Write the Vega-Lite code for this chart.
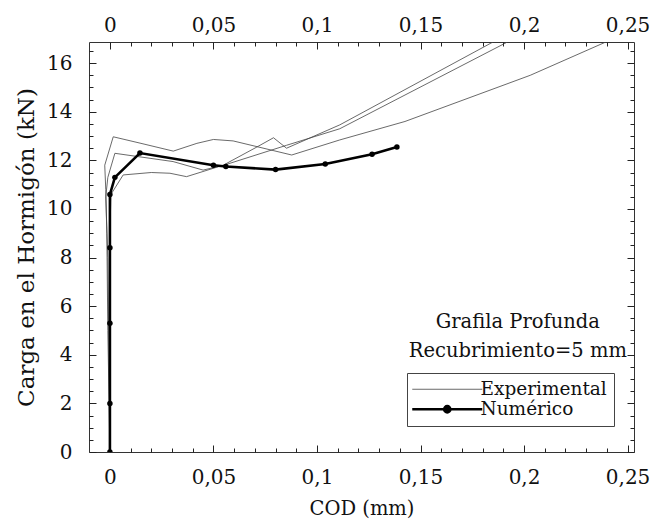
{
  "$schema": "https://vega.github.io/schema/vega-lite/v6.json",
  "width": 545,
  "height": 410,
  "autosize": {"type": "none"},
  "padding": {"left": 89, "top": 42, "right": 24, "bottom": 72},
  "background": "white",
  "config": {
    "view": {"stroke": "#333", "strokeWidth": 1},
    "font": "DejaVu Serif",
    "axis": {"grid": false, "domain": false, "ticks": true, "tickColor": "#222", "tickWidth": 1, "labelFont": "DejaVu Serif", "titleFont": "DejaVu Serif", "labelColor": "#111", "titleColor": "#111", "titleFontWeight": "normal", "zindex": 1}
  },
  "datasets": {
    "exp": [
      {"curve": "A", "series": "Experimental", "i": 0, "x": 0, "y": 0},
      {"curve": "A", "series": "Experimental", "i": 1, "x": -0.001, "y": 5},
      {"curve": "A", "series": "Experimental", "i": 2, "x": -0.0015, "y": 9},
      {"curve": "A", "series": "Experimental", "i": 3, "x": -0.002, "y": 10.8},
      {"curve": "A", "series": "Experimental", "i": 4, "x": -0.0025, "y": 11.8},
      {"curve": "A", "series": "Experimental", "i": 5, "x": 0.0016, "y": 12.97},
      {"curve": "A", "series": "Experimental", "i": 6, "x": 0.015, "y": 12.7},
      {"curve": "A", "series": "Experimental", "i": 7, "x": 0.0306, "y": 12.38},
      {"curve": "A", "series": "Experimental", "i": 8, "x": 0.042, "y": 12.7},
      {"curve": "A", "series": "Experimental", "i": 9, "x": 0.05, "y": 12.86},
      {"curve": "A", "series": "Experimental", "i": 10, "x": 0.0595, "y": 12.8},
      {"curve": "A", "series": "Experimental", "i": 11, "x": 0.0878, "y": 12.22},
      {"curve": "A", "series": "Experimental", "i": 12, "x": 0.111, "y": 12.84},
      {"curve": "A", "series": "Experimental", "i": 13, "x": 0.1425, "y": 13.6},
      {"curve": "A", "series": "Experimental", "i": 14, "x": 0.203, "y": 15.5},
      {"curve": "A", "series": "Experimental", "i": 15, "x": 0.2395, "y": 16.87},
      {"curve": "B", "series": "Experimental", "i": 0, "x": 0, "y": 0},
      {"curve": "B", "series": "Experimental", "i": 1, "x": -0.001, "y": 8},
      {"curve": "B", "series": "Experimental", "i": 2, "x": -0.002, "y": 10.5},
      {"curve": "B", "series": "Experimental", "i": 3, "x": -0.001, "y": 11.3},
      {"curve": "B", "series": "Experimental", "i": 4, "x": 0.0024, "y": 12.29},
      {"curve": "B", "series": "Experimental", "i": 5, "x": 0.0305, "y": 11.95},
      {"curve": "B", "series": "Experimental", "i": 6, "x": 0.045, "y": 11.6},
      {"curve": "B", "series": "Experimental", "i": 7, "x": 0.055, "y": 11.8},
      {"curve": "B", "series": "Experimental", "i": 8, "x": 0.0853, "y": 12.62},
      {"curve": "B", "series": "Experimental", "i": 9, "x": 0.111, "y": 13.3},
      {"curve": "B", "series": "Experimental", "i": 10, "x": 0.192, "y": 16.87},
      {"curve": "C", "series": "Experimental", "i": 0, "x": 0, "y": 0},
      {"curve": "C", "series": "Experimental", "i": 1, "x": 0, "y": 9},
      {"curve": "C", "series": "Experimental", "i": 2, "x": 0.0005, "y": 10.6},
      {"curve": "C", "series": "Experimental", "i": 3, "x": 0.0064, "y": 11.4},
      {"curve": "C", "series": "Experimental", "i": 4, "x": 0.02, "y": 11.5},
      {"curve": "C", "series": "Experimental", "i": 5, "x": 0.029, "y": 11.47},
      {"curve": "C", "series": "Experimental", "i": 6, "x": 0.037, "y": 11.33},
      {"curve": "C", "series": "Experimental", "i": 7, "x": 0.0547, "y": 11.8},
      {"curve": "C", "series": "Experimental", "i": 8, "x": 0.071, "y": 12.55},
      {"curve": "C", "series": "Experimental", "i": 9, "x": 0.079, "y": 12.93},
      {"curve": "C", "series": "Experimental", "i": 10, "x": 0.0853, "y": 12.5},
      {"curve": "C", "series": "Experimental", "i": 11, "x": 0.111, "y": 13.46},
      {"curve": "C", "series": "Experimental", "i": 12, "x": 0.185, "y": 16.87}
    ],
    "num": [
      {"series": "Numérico", "i": 0, "x": 0, "y": 0},
      {"series": "Numérico", "i": 1, "x": 0, "y": 2.0},
      {"series": "Numérico", "i": 2, "x": 0, "y": 5.3},
      {"series": "Numérico", "i": 3, "x": 0, "y": 8.4},
      {"series": "Numérico", "i": 4, "x": 0, "y": 10.6},
      {"series": "Numérico", "i": 5, "x": 0.0024, "y": 11.3},
      {"series": "Numérico", "i": 6, "x": 0.0145, "y": 12.3},
      {"series": "Numérico", "i": 7, "x": 0.05, "y": 11.8},
      {"series": "Numérico", "i": 8, "x": 0.056, "y": 11.75},
      {"series": "Numérico", "i": 9, "x": 0.08, "y": 11.62},
      {"series": "Numérico", "i": 10, "x": 0.104, "y": 11.85},
      {"series": "Numérico", "i": 11, "x": 0.1266, "y": 12.25},
      {"series": "Numérico", "i": 12, "x": 0.1386, "y": 12.55}
    ]
  },
  "layer": [
    {
      "data": {"name": "exp"},
      "mark": {"type": "line", "strokeWidth": 0.8, "clip": true},
      "encoding": {
        "x": {"field": "x", "type": "quantitative", "scale": {"domain": [-0.0101, 0.2531], "nice": false, "zero": false},
          "axis": {"orient": "bottom", "offset": -7, "values": [0, 0.05, 0.1, 0.15, 0.2, 0.25], "labelExpr": "replace(format(datum.value,'~r'),'.',',')", "tickSize": 7, "labelPadding": 15, "labelFontSize": 20, "title": "COD (mm)", "titleFontSize": 19.5, "titleY": 69, "titleBaseline": "alphabetic"}},
        "y": {"field": "y", "type": "quantitative", "scale": {"domain": [0, 16.87], "nice": false},
          "axis": {"orient": "left", "offset": -7, "values": [0, 2, 4, 6, 8, 10, 12, 14, 16], "tickSize": 7, "labelPadding": 17, "labelFontSize": 20, "title": "Carga en el Hormigón (kN)", "titleFontSize": 23, "titleX": -70, "titleBaseline": "middle"}},
        "detail": {"field": "curve"},
        "order": {"field": "i"},
        "color": {"field": "series", "type": "nominal", "scale": {"domain": ["Experimental", "Numérico"], "range": ["#444", "#000"]},
          "legend": {"orient": "none", "legendX": 318, "legendY": 331, "title": null, "strokeColor": "#444", "padding": 7, "rowPadding": 1, "symbolSize": 4900, "symbolOffset": 24, "labelOffset": 24, "labelFont": "DejaVu Serif", "labelFontSize": 18.5, "labelColor": "#111", "labelLimit": 300,
            "encode": {"symbols": {"update": {
              "shape": {"signal": "datum.value === 'Numérico' ? 'M-1,0H1M-0.09,0A0.09,0.09 0 1,1 0.09,0A0.09,0.09 0 1,1 -0.09,0Z' : 'M-1,0H1'"},
              "strokeWidth": {"signal": "datum.value === 'Numérico' ? 2.5 : 0.8"},
              "fill": {"signal": "datum.value === 'Numérico' ? '#000' : 'transparent'"},
              "stroke": {"signal": "datum.value === 'Numérico' ? '#000' : '#555'"}}}}}}
      }
    },
    {
      "data": {"name": "num"},
      "mark": {"type": "line", "strokeWidth": 2.6, "color": "#000", "clip": true, "point": {"filled": true, "size": 30, "color": "#000"}},
      "encoding": {
        "x": {"field": "x", "type": "quantitative",
          "axis": {"orient": "top", "offset": -7, "values": [0, 0.05, 0.1, 0.15, 0.2, 0.25], "labelExpr": "replace(format(datum.value,'~r'),'.',',')", "tickSize": 7, "labelPadding": 7, "labelFontSize": 20, "title": null}},
        "y": {"field": "y", "type": "quantitative",
          "axis": {"orient": "right", "offset": -7, "values": [0, 2, 4, 6, 8, 10, 12, 14, 16], "tickSize": 7, "labels": false, "title": null}},
        "order": {"field": "i"}
      }
    },
    {
      "data": {"values": [{"label": "Grafila Profunda"}]},
      "mark": {"type": "text", "font": "DejaVu Serif", "fontSize": 19.5, "color": "#111", "align": "center", "baseline": "middle"},
      "encoding": {
        "text": {"field": "label"},
        "x": {"datum": 0.197, "type": "quantitative",
          "axis": {"orient": "bottom", "offset": -4, "values": [0.01, 0.02, 0.03, 0.04, 0.06, 0.07, 0.08, 0.09, 0.11, 0.12, 0.13, 0.14, 0.16, 0.17, 0.18, 0.19, 0.21, 0.22, 0.23, 0.24], "tickSize": 4, "labels": false, "title": null}},
        "y": {"datum": 5.35, "type": "quantitative",
          "axis": {"orient": "left", "offset": -4, "values": [0.5, 1, 1.5, 2.5, 3, 3.5, 4.5, 5, 5.5, 6.5, 7, 7.5, 8.5, 9, 9.5, 10.5, 11, 11.5, 12.5, 13, 13.5, 14.5, 15, 15.5, 16.5], "tickSize": 4, "labels": false, "title": null}}
      }
    },
    {
      "data": {"values": [{"label": "Recubrimiento=5 mm"}]},
      "mark": {"type": "text", "font": "DejaVu Serif", "fontSize": 19.5, "color": "#111", "align": "center", "baseline": "middle"},
      "encoding": {
        "text": {"field": "label"},
        "x": {"datum": 0.197, "type": "quantitative",
          "axis": {"orient": "top", "offset": -4, "values": [0.01, 0.02, 0.03, 0.04, 0.06, 0.07, 0.08, 0.09, 0.11, 0.12, 0.13, 0.14, 0.16, 0.17, 0.18, 0.19, 0.21, 0.22, 0.23, 0.24], "tickSize": 4, "labels": false, "title": null}},
        "y": {"datum": 4.15, "type": "quantitative",
          "axis": {"orient": "right", "offset": -4, "values": [0.5, 1, 1.5, 2.5, 3, 3.5, 4.5, 5, 5.5, 6.5, 7, 7.5, 8.5, 9, 9.5, 10.5, 11, 11.5, 12.5, 13, 13.5, 14.5, 15, 15.5, 16.5], "tickSize": 4, "labels": false, "title": null}}
      }
    }
  ],
  "resolve": {"axis": {"x": "independent", "y": "independent"}}
}
